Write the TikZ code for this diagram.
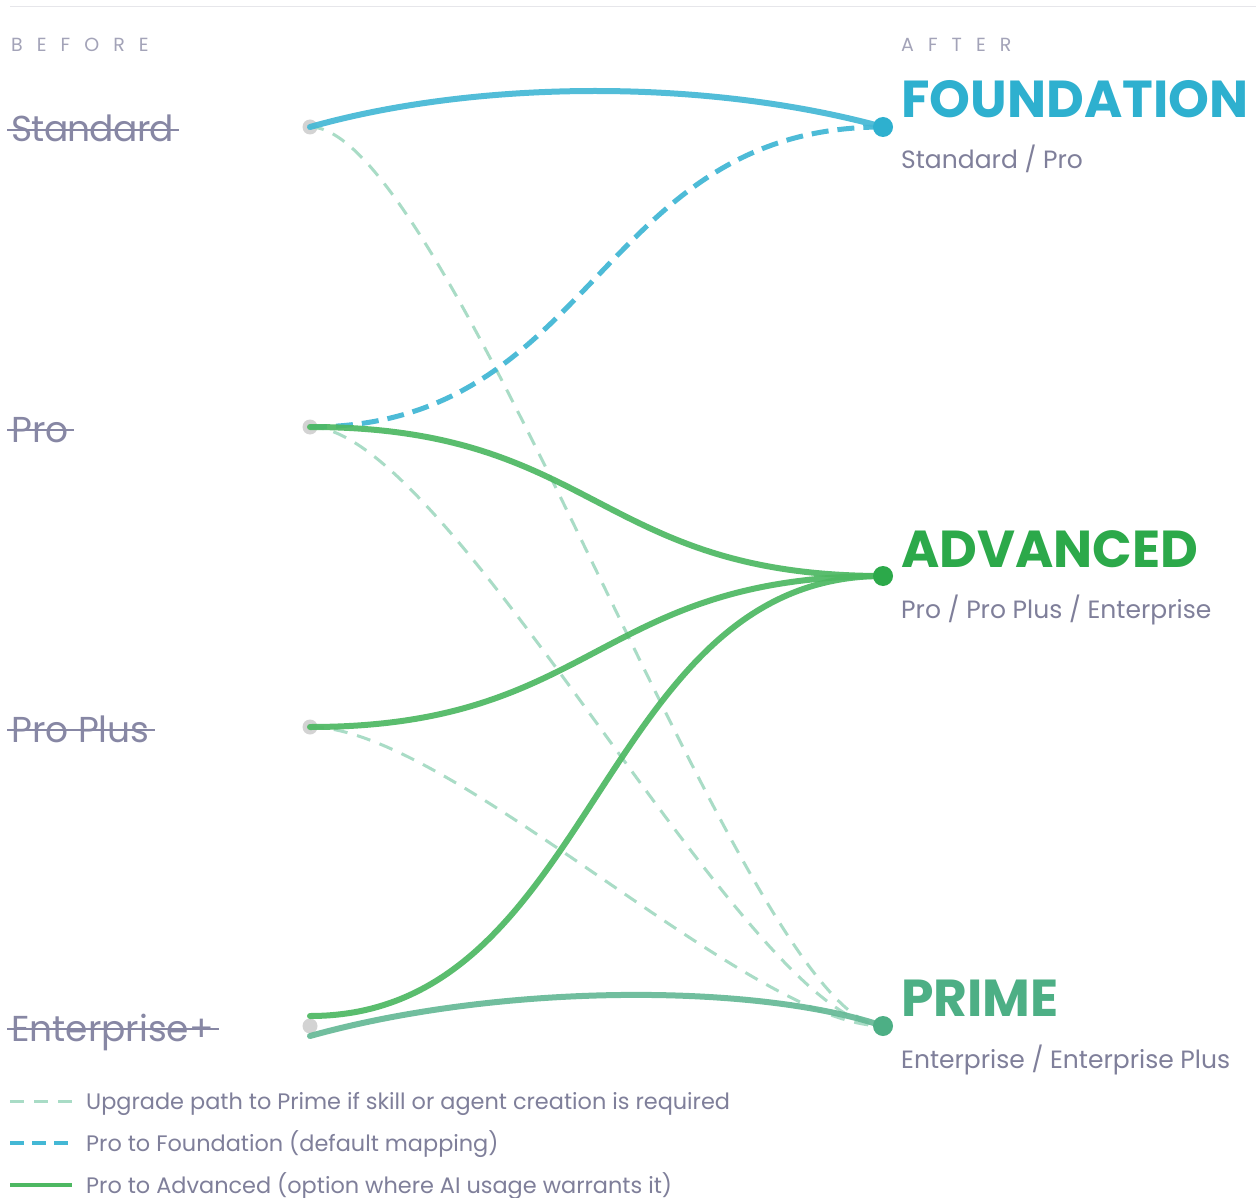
\documentclass[tikz,border=0pt]{standalone}
\usepackage{fontspec}
\setmainfont{Poppins}
\usetikzlibrary{calc}
\definecolor{rulegray}{HTML}{E6E6EA}
\definecolor{capgray}{HTML}{A3A3B8}
\definecolor{labgray}{HTML}{8787A4}
\definecolor{subgray}{HTML}{7F7F9A}
\definecolor{dotgray}{HTML}{D3D3D3}
\definecolor{fblue}{HTML}{2EB0CF}
\definecolor{lblue}{HTML}{44B8D5}
\definecolor{agreen}{HTML}{2CA94A}
\definecolor{lgreen}{HTML}{4DB862}
\definecolor{pgreen}{HTML}{4DAF85}
\definecolor{lprime}{HTML}{65B996}
\definecolor{upg}{HTML}{A9DCC6}
\tikzset{
  leftdot/.style={circle, fill=dotgray, minimum size=15pt, inner sep=0pt},
  rightdot/.style={circle, fill=#1, minimum size=20pt, inner sep=0pt},
  upgline/.style={draw=upg, line width=3pt, dash pattern=on 14pt off 10pt},
  bluedash/.style={draw=lblue, line width=5pt, dash pattern=on 17pt off 9pt, opacity=0.95},
  solidline/.style={draw=#1, line width=6pt, line cap=round, opacity=0.92},
  oldlabel/.style={inner sep=0pt, anchor=base west, text=labgray, font=\fontsize{36}{40}\selectfont},
  strike/.style={draw=labgray, line width=2pt},
  heading/.style={inner sep=0pt, anchor=base west, text=#1, font=\fontsize{52}{58}\selectfont\bfseries},
  subtext/.style={inner sep=0pt, anchor=base west, text=subgray, font=\fontsize{25}{28}\selectfont},
  captext/.style={inner sep=0pt, anchor=base west, text=capgray, font=\fontsize{19}{22}\selectfont\addfontfeatures{LetterSpace=74}},
  legtext/.style={inner sep=0pt, anchor=base west, text=subgray, font=\fontsize{22.4}{28}\selectfont},
}
\begin{document}
\begin{tikzpicture}[x=1pt,y=-1pt]
\useasboundingbox (0,0) rectangle (1256,1198);
\fill[white] (0,0) rectangle (1256,1198);
\coordinate (r1) at (10,7);
\coordinate (r2) at (1256,7);
\draw[rulegray, line width=1pt] (r1) -- (r2);

% captions
\node[captext] (before) at (11,52) {BEFORE};
\node[captext] (after) at (901,52) {AFTER};

% left dots
\node[leftdot] (std) at (310,127) {};
\node[leftdot] (pro) at (310,427) {};
\node[leftdot] (pplus) at (310,727) {};
\node[leftdot] (ent) at (310,1026) {};
\coordinate (entA) at (310,1016);
\coordinate (entB) at (310,1036);

% right dots positions
\coordinate (F) at (883,127);
\coordinate (A) at (883,576);
\coordinate (P) at (883,1026);

% upgrade paths
\draw[upgline] (std.center) .. controls (450,127) and (750,1026) .. (P);
\draw[upgline] (pro.center) .. controls (450,427) and (750,1026) .. (P);
\draw[upgline] (pplus.center) .. controls (450,727) and (750,1026) .. (P);

% foundation
\draw[solidline=lblue] (std.center) .. controls (480,79) and (709,79) .. (F);
\draw[bluedash] (pro.center) .. controls (596.5,427) and (596.5,127) .. (F);

% advanced
\draw[solidline=lgreen] (pro.center) .. controls (596.5,427) and (596.5,576) .. (A);
\draw[solidline=lgreen] (pplus.center) .. controls (596.5,727) and (596.5,576) .. (A);
\draw[solidline=lgreen] (entA) .. controls (596.5,1016) and (596.5,576) .. (A);

% prime
\draw[solidline=lprime] (entB) .. controls (500,983) and (756,983) .. (P);

% right dots
\node[rightdot=fblue] (fdot) at (F) {};
\node[rightdot=agreen] (adot) at (A) {};
\node[rightdot=pgreen] (pdot) at (P) {};

% old labels
\node[oldlabel] (lstd) at (11,142) {\addfontfeatures{LetterSpace=-2}Standard};
\node[oldlabel] (lpro) at (11,442) {Pro};
\node[oldlabel] (lpplus) at (11,742) {Pro Plus};
\node[oldlabel] (lent) at (11,1041) {Enterprise+};
\foreach \n in {lstd,lpro,lpplus,lent}{
  \draw[strike] ($(\n.base west)+(-4,-12)$) -- ($(\n.base east)+(5,-12)$);
}

% headings
\node[heading=fblue] (hF) at (901,118) {FOUNDATION};
\node[subtext] (sF) at (901,169) {Standard / Pro};
\node[heading=agreen] (hA) at (901,567) {ADVANCED};
\node[subtext] (sA) at (901,618) {Pro / Pro Plus / Enterprise};
\node[heading=pgreen] (hP) at (901,1016) {PRIME};
\node[subtext] (sP) at (901,1068) {Enterprise / Enterprise Plus};

% legend
\coordinate (l1a) at (10,1101); \coordinate (l1b) at (72,1101);
\coordinate (l2a) at (10,1143); \coordinate (l2b) at (72,1143);
\coordinate (l3a) at (10,1185); \coordinate (l3b) at (72,1185);
\draw[upgline] (l1a) -- (l1b);
\draw[draw=lblue, line width=4pt, dash pattern=on 14pt off 8pt] (l2a) -- (l2b);
\draw[draw=lgreen, line width=4pt] (l3a) -- (l3b);
\node[legtext] (t1) at (86,1109) {Upgrade path to Prime if skill or agent creation is required};
\node[legtext] (t2) at (86,1151) {Pro to Foundation (default mapping)};
\node[legtext] (t3) at (86,1193) {Pro to Advanced (option where AI usage warrants it)};
\end{tikzpicture}
\end{document}
